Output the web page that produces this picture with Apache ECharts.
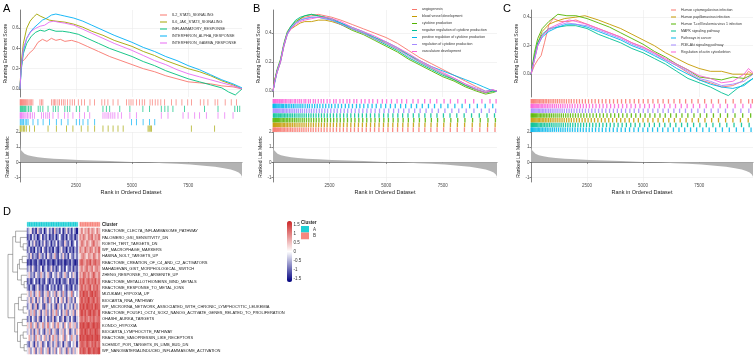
<!DOCTYPE html>
<html>
<head>
<meta charset="utf-8">
<script src="https://cdn.jsdelivr.net/npm/echarts@6/dist/echarts.min.js"></script>
<style>
  html, body { margin: 0; padding: 0; background: #fff; }
  #chart { width: 755px; height: 359px; }
</style>
</head>
<body>
<div id="chart"></div>
<script>
// ---------- data ----------
const N_GENES = 9900;

// ranked list metric (rank, value)
const rankedMetric = [[0,1.2],[20,0.95],[50,0.8],[100,0.68],[200,0.56],[350,0.47],[550,0.4],[800,0.34],[1100,0.29],[1500,0.24],[2000,0.2],[2600,0.16],[3300,0.12],[4000,0.08],[4700,0.04],[5300,0.01],[5800,-0.02],[6400,-0.06],[7000,-0.1],[7600,-0.15],[8200,-0.22],[8700,-0.3],[9100,-0.39],[9400,-0.48],[9600,-0.57],[9750,-0.68],[9850,-0.8],[9900,-0.95]];

// panel A (hallmark)
const setsA = ['IL2_STAT5_SIGNALING', 'IL6_JAK_STAT3_SIGNALING', 'INFLAMMATORY_RESPONSE', 'INTERFERON_ALPHA_RESPONSE', 'INTERFERON_GAMMA_RESPONSE'];
const colorsA = ['#F8766D', '#A3A500', '#00BF7D', '#00B0F6', '#E76BF3'];
const esA_IL2 = [[0,0],[40,0.2],[80,0.27],[200,0.29],[400,0.35],[600,0.39],[800,0.46],[1000,0.49],[1200,0.47],[1400,0.5],[1600,0.48],[1800,0.49],[2000,0.47],[2300,0.48],[2600,0.46],[3000,0.42],[3500,0.37],[4000,0.32],[4500,0.28],[5000,0.24],[5500,0.2],[6000,0.17],[6500,0.13],[7000,0.1],[7500,0.07],[8000,0.06],[8500,0.05],[9000,0.03],[9500,0.02],[9900,0]];
const esA_IL6 = [[0,0],[50,0.25],[150,0.45],[300,0.6],[450,0.67],[600,0.71],[750,0.74],[900,0.72],[1100,0.7],[1300,0.68],[1600,0.67],[2000,0.66],[2400,0.64],[2800,0.61],[3200,0.57],[3700,0.53],[4200,0.48],[5000,0.42],[5500,0.37],[6000,0.33],[6500,0.28],[7000,0.24],[7500,0.2],[8000,0.17],[8500,0.13],[9000,0.08],[9500,0.04],[9900,0]];
const esA_INFL = [[0,0],[50,0.18],[150,0.35],[300,0.45],[500,0.52],[700,0.56],[900,0.58],[1100,0.57],[1300,0.59],[1600,0.57],[1900,0.57],[2200,0.56],[2600,0.54],[3000,0.5],[3500,0.45],[4000,0.4],[4500,0.36],[5000,0.32],[5500,0.27],[6000,0.23],[6500,0.18],[7000,0.14],[7500,0.1],[8000,0.07],[8500,0.04],[9000,0.01],[9300,-0.03],[9600,-0.06],[9800,-0.02],[9900,0]];
const esA_ALPHA = [[0,0],[50,0.2],[150,0.38],[300,0.5],[450,0.56],[600,0.6],[800,0.64],[1000,0.68],[1200,0.7],[1400,0.73],[1600,0.74],[1800,0.73],[2000,0.72],[2400,0.7],[2800,0.67],[3200,0.63],[3700,0.58],[4200,0.53],[5000,0.46],[5500,0.41],[6000,0.37],[6500,0.32],[7000,0.28],[7500,0.23],[8000,0.19],[8500,0.14],[9000,0.09],[9500,0.05],[9900,0.01]];
const esA_GAMMA = [[0,0],[50,0.2],[150,0.4],[300,0.5],[500,0.57],[700,0.6],[900,0.62],[1100,0.63],[1300,0.66],[1500,0.67],[1700,0.66],[2000,0.65],[2400,0.63],[2800,0.59],[3200,0.55],[3700,0.5],[4200,0.45],[5000,0.38],[5500,0.33],[6000,0.28],[6500,0.24],[7000,0.19],[7500,0.15],[8000,0.12],[8500,0.09],[9000,0.06],[9500,0.03],[9900,0]];
// rug rows of panel A, top to bottom
const rugColorsA = ['#F8766D', '#00BF7D', '#E76BF3', '#00B0F6', '#A3A500'];
const rugA1 = [5,25,45,70,95,120,150,180,210,245,280,320,360,410,460,520,575,890,960,1020,1410,1480,1540,1600,1690,1760,1850,1930,2010,2120,2230,2330,2430,2600,2750,2880,3120,3320,3650,3780,3920,4150,4370,4750,4860,4950,5040,5200,5330,5450,5560,5800,5900,6030,6150,6280,6450,6760,6960,7220,7480,7650,8040,8200,8380,8700,8820,9150,9420,9650];
const rugA2 = [10,40,75,110,150,200,250,310,380,450,500,810,900,1020,1250,1480,1590,1700,2000,2110,2220,2510,2660,3030,3700,3850,4000,4450,4900,5480,5780,6300,6460,6600,6820,7340,8230,8830,9580,9700,9800];
const rugA3 = [5,30,60,90,130,170,220,270,330,400,470,550,640,960,1050,1150,1240,1320,1470,1700,1990,2140,2360,2660,2880,3110,3700,3790,3880,3960,4050,4140,4230,4370,4520,4900,5190,6300,6600,7270,7500,7790,8010,8310,8830,9130,9500];
const rugA4 = [10,50,100,160,230,300,360,580,800,1030,1320,1620,1840,2140,2510,2660,2810,3030,3330,4970,5190,5490,5780,6010];
const rugA5 = [5,40,90,150,210,280,430,650,1250,1620,2070,2360,2730,3030,3330,3700,3930,4150,4370,4600,5710,5760,5810,5860,7640,8680];

// panel B (GO)
const setsB = ['angiogenesis', 'blood vessel development', 'cytokine production', 'negative regulation of cytokine production', 'positive regulation of cytokine production', 'regulation of cytokine production', 'vasculature development'];
const colorsB = ['#F8766D', '#C49A00', '#53B400', '#00C094', '#00B6EB', '#A58AFF', '#FB61D7'];
const esB_angio = [[0,0],[80,0.07],[180,0.13],[330,0.2],[480,0.31],[630,0.4],[800,0.44],[1000,0.47],[1200,0.5],[1400,0.51],[1700,0.52],[2000,0.53],[2300,0.52],[2600,0.51],[3000,0.49],[3500,0.46],[4000,0.43],[4500,0.4],[5000,0.37],[5500,0.33],[6000,0.28],[6500,0.23],[7000,0.19],[7500,0.15],[8000,0.11],[8500,0.07],[9000,0.03],[9400,0],[9700,0.01],[9900,0]];
const esB_blood = [[0,0],[80,0.08],[180,0.14],[330,0.21],[480,0.32],[630,0.4],[800,0.43],[1000,0.45],[1200,0.47],[1400,0.48],[1700,0.48],[2000,0.49],[2300,0.49],[2600,0.48],[3000,0.46],[3500,0.43],[4000,0.4],[4500,0.37],[5000,0.33],[5500,0.29],[6000,0.25],[6500,0.2],[7000,0.16],[7500,0.12],[8000,0.08],[8500,0.04],[9000,0.01],[9400,-0.01],[9700,0],[9900,0]];
const esB_cyto = [[0,0],[80,0.08],[180,0.15],[330,0.22],[480,0.33],[630,0.41],[800,0.45],[1000,0.48],[1200,0.5],[1400,0.52],[1700,0.53],[2000,0.52],[2300,0.51],[2600,0.49],[3000,0.46],[3500,0.42],[4000,0.39],[4500,0.35],[5000,0.31],[5500,0.27],[6000,0.22],[6500,0.18],[7000,0.14],[7500,0.1],[8000,0.07],[8500,0.03],[9000,0],[9400,-0.02],[9700,-0.01],[9900,0]];
const esB_neg = [[0,0],[80,0.07],[180,0.14],[330,0.21],[480,0.32],[630,0.4],[800,0.45],[1000,0.49],[1200,0.51],[1400,0.52],[1700,0.53],[2000,0.52],[2300,0.51],[2600,0.5],[3000,0.47],[3500,0.43],[4000,0.4],[4500,0.36],[5000,0.32],[5500,0.28],[6000,0.23],[6500,0.19],[7000,0.15],[7500,0.11],[8000,0.08],[8500,0.04],[9000,0.01],[9400,-0.01],[9700,0],[9900,0]];
const esB_pos = [[0,0],[80,0.06],[180,0.13],[330,0.2],[480,0.31],[630,0.39],[800,0.44],[1000,0.47],[1200,0.49],[1400,0.5],[1700,0.51],[2000,0.51],[2300,0.5],[2600,0.49],[3000,0.47],[3500,0.44],[4000,0.41],[4500,0.37],[5000,0.34],[5500,0.3],[6000,0.25],[6500,0.21],[7000,0.17],[7500,0.14],[8000,0.11],[8500,0.08],[9000,0.05],[9300,0.03],[9600,0.01],[9900,0]];
const esB_reg = [[0,0],[80,0.07],[180,0.14],[330,0.21],[480,0.32],[630,0.4],[800,0.44],[1000,0.47],[1200,0.49],[1400,0.5],[1700,0.51],[2000,0.51],[2300,0.5],[2600,0.49],[3000,0.46],[3500,0.43],[4000,0.4],[4500,0.36],[5000,0.33],[5500,0.29],[6000,0.24],[6500,0.2],[7000,0.16],[7500,0.12],[8000,0.09],[8500,0.05],[9000,0.02],[9400,0],[9700,0.01],[9900,0]];
const esB_vasc = [[0,0],[80,0.07],[180,0.13],[330,0.2],[480,0.31],[630,0.39],[800,0.43],[1000,0.46],[1200,0.48],[1400,0.49],[1700,0.5],[2000,0.51],[2300,0.51],[2600,0.5],[3000,0.48],[3500,0.44],[4000,0.41],[4500,0.38],[5000,0.34],[5500,0.3],[6000,0.26],[6500,0.21],[7000,0.17],[7500,0.13],[8000,0.09],[8500,0.05],[9000,0.01],[9400,-0.01],[9700,0.01],[9900,0]];
const rugColorsB = ['#FB61D7', '#00B6EB', '#A58AFF', '#00C094', '#53B400', '#C49A00', '#F8766D'];
const rugB1 = [8,31,66,102,140,187,226,281,318,377,430,488,560,619,703,770,841,935,1002,1096,1180,1262,1371,1449,1563,1650,1781,1874,2002,2130,2241,2392,2515,2680,2790,2958,3102,3270,3391,3577,3701,3905,4066,4248,4410,4619,4833,5020,5236,5482,5690,5905,6187,6412,6703,6950,7238,7560,7841,8166,8502,8870,9233,9590,9860];
const rugB2 = [4,27,58,95,128,171,219,262,309,366,421,470,541,598,672,745,822,901,976,1063,1150,1231,1318,1420,1522,1611,1730,1840,1956,2071,2203,2330,2470,2590,2742,2881,3030,3197,3349,3512,3688,3840,4012,4195,4380,4563,4770,4980,5190,5404,5640,5862,6111,6345,6598,6870,7139,7419,7730,8037,8358,8690,9030,9378,9712];
const rugB3 = [13,44,83,121,163,208,255,301,354,412,466,527,590,657,731,799,877,955,1038,1121,1212,1299,1395,1488,1597,1699,1807,1921,2045,2161,2290,2413,2555,2700,2839,2992,3148,3301,3466,3633,3800,3971,4150,4332,4515,4708,4911,5114,5330,5548,5777,6010,6262,6503,6766,7030,7310,7598,7905,8210,8540,8880,9211,9555,9840];
const rugB4 = [19,52,90,133,178,231,277,336,392,448,513,574,640,714,786,859,944,1020,1109,1193,1284,1377,1474,1576,1680,1789,1902,2019,2141,2265,2398,2531,2672,2818,2966,3122,3279,3440,3609,3781,3950,4131,4308,4497,4688,4890,5088,5299,5517,5730,5966,6201,6450,6711,6977,7247,7532,7823,8124,8448,8775,9117,9460,9790];
const rugB5 = [6,39,77,117,159,204,248,297,349,405,462,522,587,650,722,792,866,948,1026,1110,1196,1291,1381,1480,1583,1688,1796,1911,2030,2150,2279,2404,2544,2681,2827,2975,3131,3292,3455,3621,3792,3966,4144,4325,4509,4702,4898,5101,5312,5526,5752,5983,6221,6471,6730,6999,7273,7561,7859,8163,8482,8820,9160,9501,9830];
const rugB6 = [11,36,71,110,150,197,242,292,343,399,456,515,581,645,716,785,860,940,1017,1103,1188,1280,1372,1470,1572,1678,1786,1899,2017,2139,2268,2393,2531,2669,2813,2962,3117,3277,3440,3606,3777,3951,4129,4311,4495,4688,4884,5087,5296,5511,5737,5968,6206,6456,6715,6983,7258,7546,7843,8149,8468,8806,9146,9487,9818];
const rugB7 = [2,33,68,106,147,193,238,287,338,395,451,510,575,639,709,779,853,933,1010,1096,1181,1273,1365,1463,1565,1671,1779,1892,2010,2132,2260,2386,2523,2662,2806,2954,3110,3270,3433,3599,3770,3944,4122,4304,4488,4681,4877,5080,5289,5504,5730,5961,6199,6449,6708,6976,7251,7539,7836,8142,8461,8799,9139,9480,9811];

// panel C (KEGG)
const setsC = ['Human cytomegalovirus infection', 'Human papillomavirus infection', 'Human T-cell leukemia virus 1 infection', 'MAPK signaling pathway', 'Pathways in cancer', 'PI3K-Akt signaling pathway', 'Regulation of actin cytoskeleton'];
const colorsC = ['#F8766D', '#C49A00', '#53B400', '#00C094', '#00B6EB', '#A58AFF', '#FB61D7'];
const esC_HCMV = [[0,0],[150,0.06],[300,0.1],[450,0.13],[600,0.22],[800,0.35],[1000,0.39],[1300,0.37],[1700,0.37],[2000,0.38],[2500,0.35],[3000,0.32],[3500,0.29],[4000,0.26],[4500,0.22],[5000,0.19],[5500,0.15],[6000,0.1],[6500,0.06],[7000,0.01],[7500,-0.04],[8000,-0.06],[8500,-0.09],[9000,-0.08],[9400,-0.05],[9700,0.02],[9900,0]];
const esC_HPV = [[0,0],[150,0.12],[300,0.22],[500,0.3],[800,0.35],[1100,0.37],[1500,0.39],[2000,0.4],[2400,0.41],[3000,0.38],[3500,0.35],[4000,0.32],[4500,0.28],[5000,0.24],[5500,0.2],[6000,0.15],[6500,0.11],[7000,0.07],[7500,0.04],[8000,0.02],[8500,0.02],[9000,0],[9500,0],[9900,0]];
const esC_HTLV = [[0,0],[150,0.15],[300,0.25],[500,0.32],[800,0.37],[1200,0.42],[1600,0.41],[2000,0.41],[2500,0.39],[3000,0.36],[3500,0.33],[4000,0.29],[4500,0.25],[5000,0.21],[5500,0.16],[6000,0.12],[6500,0.07],[7000,0.03],[7500,-0.02],[8000,-0.03],[8500,-0.04],[9000,-0.02],[9500,-0.03],[9900,0]];
const esC_MAPK = [[0,0],[150,0.12],[300,0.22],[500,0.28],[800,0.32],[1200,0.33],[1600,0.34],[2000,0.34],[2500,0.32],[3000,0.28],[3500,0.25],[4000,0.22],[4500,0.18],[5000,0.15],[5500,0.11],[6000,0.07],[6500,0.02],[7000,-0.03],[7500,-0.06],[8000,-0.09],[8500,-0.13],[8800,-0.15],[9200,-0.1],[9600,-0.06],[9900,-0.03]];
const esC_PIC = [[0,0],[150,0.1],[300,0.2],[500,0.26],[800,0.3],[1200,0.33],[1600,0.35],[2000,0.35],[2500,0.33],[3000,0.3],[3500,0.27],[4000,0.24],[4500,0.2],[5000,0.17],[5500,0.13],[6000,0.09],[6500,0.04],[7000,0],[7500,-0.04],[8000,-0.07],[8500,-0.09],[9000,-0.1],[9500,-0.08],[9900,-0.03]];
const esC_PI3K = [[0,0],[150,0.1],[300,0.2],[500,0.27],[800,0.31],[1200,0.34],[1600,0.36],[2000,0.35],[2500,0.34],[3000,0.31],[3500,0.28],[4000,0.25],[4500,0.21],[5000,0.18],[5500,0.14],[6000,0.1],[6500,0.06],[7000,0.02],[7500,-0.03],[8000,-0.05],[8500,-0.08],[9000,-0.07],[9500,-0.05],[9900,0]];
const esC_ACTIN = [[0,0],[150,0.1],[300,0.2],[500,0.27],[800,0.32],[1200,0.35],[1700,0.38],[2000,0.37],[2500,0.35],[3000,0.32],[3500,0.29],[4000,0.26],[4500,0.22],[5000,0.19],[5500,0.15],[6000,0.11],[6500,0.07],[7000,0.03],[7500,-0.01],[8000,-0.03],[8500,-0.06],[9000,-0.05],[9500,0],[9700,0.04],[9900,0.01]];
const rugColorsC = ['#F8766D', '#FB61D7', '#A58AFF', '#53B400', '#C49A00', '#00C094', '#00B6EB'];
const rugC1 = [9,41,79,118,166,214,266,318,376,439,497,561,633,701,779,852,937,1015,1104,1189,1283,1379,1477,1581,1690,1798,1917,2034,2160,2291,2425,2565,2710,2861,3015,3177,3338,3507,3680,3857,4038,4221,4410,4606,4803,5008,5218,5438,5660,5892,6130,6378,6633,6895,7170,7452,7744,8047,8361,8680,9017,9360,9705,9870];
const rugC2 = [3,29,63,101,143,188,236,289,341,400,458,522,589,659,734,806,886,966,1052,1137,1229,1322,1419,1520,1626,1731,1842,1959,2078,2203,2333,2466,2605,2751,2900,3056,3215,3380,3550,3724,3901,4084,4270,4461,4657,4859,5066,5279,5499,5723,5957,6196,6443,6701,6964,7239,7521,7814,8118,8433,8761,9101,9449,9800];
const rugC3 = [16,47,86,127,172,221,272,326,383,444,505,570,640,711,786,862,943,1025,1112,1199,1293,1388,1488,1590,1698,1806,1922,2042,2165,2294,2428,2567,2712,2860,3014,3172,3336,3503,3676,3852,4033,4219,4408,4603,4802,5007,5218,5435,5658,5888,6126,6372,6626,6889,7161,7442,7733,8035,8348,8674,9012,9359,9714];
const rugC4 = [7,37,74,113,157,205,255,307,364,423,484,547,615,684,758,832,911,993,1077,1165,1256,1350,1446,1547,1651,1758,1869,1984,2104,2227,2355,2487,2625,2768,2917,3070,3227,3390,3558,3731,3909,4092,4281,4474,4673,4878,5087,5303,5524,5752,5986,6228,6476,6732,6995,7267,7547,7836,8135,8444,8765,9097,9440,9795];
const rugC5 = [12,45,82,124,170,219,271,324,381,442,503,568,637,708,783,860,940,1022,1108,1197,1289,1384,1482,1585,1691,1800,1914,2032,2154,2280,2410,2546,2687,2833,2984,3141,3302,3468,3640,3818,4001,4189,4383,4582,4787,4998,5215,5438,5667,5903,6145,6395,6652,6916,7188,7468,7757,8055,8362,8678,9004,9340,9686];
const rugC6 = [5,33,69,108,151,198,249,302,358,416,476,540,607,677,749,825,904,985,1071,1158,1249,1343,1440,1540,1645,1752,1863,1977,2095,2218,2345,2476,2612,2753,2899,3050,3206,3367,3534,3706,3883,4065,4253,4447,4646,4851,5062,5279,5502,5731,5967,6210,6459,6715,6979,7251,7530,7817,8113,8418,8731,9054,9386,9728];
const rugC7 = [1,26,57,93,133,177,224,276,330,388,449,513,580,651,725,801,882,965,1051,1140,1232,1327,1425,1526,1630,1738,1849,1964,2082,2204,2330,2461,2596,2735,2879,3028,3181,3339,3502,3670,3844,4022,4206,4395,4589,4789,4994,5205,5422,5645,5874,6109,6351,6599,6854,7116,7385,7661,7945,8236,8536,8843,9158,9481,9813];

// panel D (heatmap of GSVA scores)
const heatRows = ['REACTOME_CLEC7A_INFLAMMASOME_PATHWAY', 'PALOMERO_GSI_SENSITIVITY_DN', 'ROETH_TERT_TARGETS_DN', 'WP_MACROPHAGE_MARKERS', 'HASINA_NOL7_TARGETS_UP', 'REACTOME_CREATION_OF_C4_AND_C2_ACTIVATORS', 'MAHADEVAN_GIST_MORPHOLOGICAL_SWITCH', 'ZHENG_RESPONSE_TO_ARSENITE_UP', 'REACTOME_METALLOTHIONEINS_BIND_METALS', 'REACTOME_RESPONSE_TO_METAL_IONS', 'MIZUKAMI_HYPOXIA_UP', 'BIOCARTA_RNA_PATHWAY', 'WP_MICRORNA_NETWORK_ASSOCIATED_WITH_CHRONIC_LYMPHOCYTIC_LEUKEMIA', 'REACTOME_POU5F1_OCT4_SOX2_NANOG_ACTIVATE_GENES_RELATED_TO_PROLIFERATION', 'OHASHI_AURKA_TARGETS', 'KONDO_HYPOXIA', 'BIOCARTA_LYMPHOCYTE_PATHWAY', 'REACTOME_VASOPRESSIN_LIKE_RECEPTORS', 'SCHMIDT_POR_TARGETS_IN_LIMB_BUD_DN', 'WP_NANOMATERIALINDUCED_INFLAMMASOME_ACTIVATION'];
const nClusterA = 30; // first 30 samples are cluster A, the rest cluster B
const heatValues = [
  [-0.9,-0.3,0.2,-1.2,-0.6,-1.4,0.4,-0.8,-1.1,-0.2,-1.5,-0.7,0.1,-1.0,-0.4,-1.3,0.5,-0.9,-0.6,-1.2,-0.1,-1.4,-0.8,0.3,-1.1,-0.5,-1.3,-0.2,-0.9,-1.5, 0.5,1.0,0.3,0.8,0.6,1.1,0.4,0.9,0.7,0.2,1.0,0.6],
  [-1.2,-0.7,-1.4,-0.2,-1.0,-0.5,-1.5,-0.9,0.1,-1.3,-0.6,-1.1,-0.3,-1.4,-0.8,-1.2,-0.4,-1.5,-0.7,0.0,-1.0,-1.3,-0.6,-1.4,-0.2,-0.9,-1.2,-0.5,-1.4,-0.8, 0.9,0.6,1.1,0.7,0.4,1.0,0.8,1.2,0.5,0.9,0.7,1.1],
  [-0.6,-1.3,-0.2,-0.9,0.3,-1.1,-0.7,-1.4,-0.4,-1.0,0.2,-1.2,-0.8,-0.3,-1.4,-0.6,-1.0,0.1,-1.3,-0.5,-0.9,-1.2,0.4,-0.7,-1.1,-0.3,-1.4,-0.8,0.0,-1.0, 0.6,1.1,0.8,0.4,1.0,0.7,0.3,0.9,1.2,0.6,0.8,0.5],
  [-1.0,-0.4,-1.3,-0.8,-1.5,-0.2,-1.1,-0.6,-1.4,0.1,-0.9,-1.3,-0.5,-1.2,-0.7,-1.5,-0.3,-1.0,-1.4,-0.6,0.2,-1.1,-0.8,-1.5,-0.4,-1.2,-0.7,-1.4,-0.5,-1.0, 1.0,0.7,0.5,1.2,0.8,0.6,1.1,0.9,0.4,1.0,0.7,1.2],
  [-0.4,-0.9,0.3,-1.1,-0.5,-0.8,-1.2,0.5,-0.6,-1.0,-0.3,-1.3,0.2,-0.7,-1.1,-0.4,0.6,-0.9,-1.2,-0.2,-0.8,0.4,-1.0,-0.5,-1.3,0.1,-0.7,-1.1,-0.3,-0.9, 0.4,0.8,1.0,0.6,0.3,0.9,0.7,0.5,1.1,0.8,0.4,0.9],
  [-1.3,-1.0,-1.5,-0.7,-1.2,-1.4,-0.5,-1.1,-1.5,-0.9,-1.3,-0.4,-1.4,-1.1,-0.8,-1.5,-1.2,-0.6,-1.4,-1.0,-1.3,-0.7,-1.5,-1.2,-0.9,-1.4,-0.5,-1.1,-1.5,-1.2, 1.1,1.3,0.9,0.7,1.2,1.0,1.4,0.8,1.1,1.3,0.9,1.0],
  [-0.8,-0.3,-1.1,0.2,-0.9,-1.3,-0.6,-1.0,0.1,-1.4,-0.7,-0.2,-1.2,-0.9,0.3,-1.1,-0.5,-1.3,-0.8,-0.1,-1.2,-0.6,-1.4,0.0,-0.9,-1.1,-0.4,-1.3,-0.7,-1.0, 0.7,1.0,0.5,0.9,1.2,0.6,0.8,1.1,0.4,0.9,1.0,0.7],
  [-0.3,0.4,-0.8,-0.5,-1.1,0.2,-0.6,-0.9,0.6,-0.4,-1.0,-0.2,0.5,-0.8,-1.2,0.1,-0.5,-0.9,0.3,-0.7,-1.1,-0.3,0.6,-0.6,-1.0,0.0,-0.8,0.4,-0.5,-1.2, 0.9,0.6,1.2,1.0,0.7,1.1,0.5,0.9,1.3,0.8,0.6,1.0],
  [-1.1,-0.6,-1.4,-0.9,0.0,-1.2,-0.7,-1.5,-0.5,-1.0,-1.3,0.1,-0.8,-1.4,-0.6,-1.1,-0.2,-1.3,-0.9,-1.5,-0.4,-1.0,-1.2,-0.7,0.2,-1.4,-0.9,-1.1,-0.6,-1.3, 1.2,1.0,1.4,0.8,1.1,1.3,0.9,1.2,1.0,1.4,0.8,1.1],
  [-0.7,-1.2,-0.3,-1.0,-1.4,-0.6,0.2,-1.1,-0.8,-1.3,-0.4,-0.9,-1.4,0.0,-1.0,-0.6,-1.2,-0.3,-1.4,-0.8,-1.1,0.1,-0.7,-1.3,-0.5,-1.0,-1.4,-0.2,-1.1,-0.8, 1.0,1.3,0.8,1.2,0.9,1.1,1.4,0.7,1.2,1.0,1.3,0.9],
  [0.2,-0.6,0.7,-0.3,-1.0,0.5,-0.2,0.9,-0.7,-1.1,0.3,-0.4,0.8,-0.8,0.1,-0.5,0.6,-1.0,0.4,-0.2,-0.9,0.7,-0.6,-1.1,0.2,-0.3,0.9,-0.8,0.0,-0.5, 1.3,1.1,1.5,1.2,1.4,0.9,1.3,1.5,1.1,1.4,1.2,1.0],
  [-0.5,0.3,-0.9,0.6,-0.2,-1.2,0.4,-0.7,0.1,-1.0,0.5,-0.4,-1.1,0.7,-0.6,0.0,-0.9,0.4,-1.3,-0.1,0.6,-0.8,0.2,-1.2,0.5,-0.5,-0.9,0.3,-1.1,0.1, 1.1,1.4,1.0,1.3,1.2,1.5,1.0,1.2,1.4,0.9,1.3,1.1],
  [-0.8,-0.2,0.4,-1.1,-0.5,0.6,-1.3,-0.3,0.2,-0.9,-1.2,0.5,-0.6,-0.1,-1.0,0.3,-0.7,-1.3,0.6,-0.4,-0.9,0.1,-1.2,-0.5,0.4,-0.8,-0.2,-1.1,0.5,-0.6, 1.4,1.2,1.5,1.1,1.5,1.3,1.2,1.4,1.0,1.5,1.3,1.2],
  [0.1,-0.7,0.6,-0.4,0.8,-0.9,-0.2,0.5,-1.1,0.3,-0.5,0.7,-0.8,0.2,-1.0,0.6,-0.3,0.9,-0.7,0.0,-1.1,0.4,-0.5,0.8,-0.9,0.2,-0.4,0.6,-1.0,0.3, 1.2,1.5,1.1,1.4,1.0,1.3,1.5,1.1,1.4,1.2,1.0,1.4],
  [-0.9,-0.4,-1.3,0.1,-0.7,-1.1,0.3,-0.9,-1.4,-0.2,-0.8,0.2,-1.2,-0.5,-1.0,0.4,-1.3,-0.6,-0.1,-1.1,-0.8,0.3,-1.4,-0.6,-0.3,-1.2,0.1,-0.9,-1.3,-0.4, 1.0,1.2,0.9,1.3,1.1,0.8,1.2,1.0,1.3,0.9,1.1,1.2],
  [0.4,-0.3,0.9,-0.6,0.2,0.7,-0.9,0.5,-0.2,0.8,-0.7,0.3,1.0,-0.5,0.1,0.6,-0.8,0.4,0.9,-0.3,0.2,-0.9,0.7,0.0,-0.6,0.8,0.3,-0.4,0.6,-0.7, 1.4,1.3,1.5,1.2,1.4,1.5,1.1,1.3,1.5,1.2,1.4,1.3],
  [-0.4,0.2,-0.8,0.5,-1.1,-0.3,0.6,-0.9,0.1,-0.6,-1.2,0.4,-0.5,0.7,-1.0,-0.2,0.5,-0.8,-1.1,0.3,-0.4,0.6,-0.9,-0.1,0.4,-1.2,-0.6,0.2,-0.8,0.5, 1.2,1.4,1.1,1.5,1.3,1.0,1.4,1.2,1.1,1.5,1.3,1.1],
  [0.0,0.6,-0.5,0.3,-0.9,0.8,-0.2,0.5,-0.7,0.1,0.7,-0.6,0.4,-1.0,0.2,0.9,-0.4,0.6,-0.8,0.3,-0.1,0.7,-0.9,0.5,0.0,-0.6,0.8,-0.3,0.4,-0.8, 1.5,1.3,1.4,1.2,1.5,1.4,1.3,1.5,1.2,1.4,1.5,1.3],
  [-0.6,-1.0,0.2,-0.4,-1.3,0.4,-0.8,-0.2,0.5,-1.1,-0.5,0.1,-1.2,-0.7,0.3,-0.9,-0.3,0.6,-1.0,-0.6,0.2,-1.3,-0.4,0.4,-0.8,-1.1,0.0,-0.5,0.3,-1.2, 1.1,1.3,1.2,1.0,1.4,1.2,0.9,1.3,1.1,1.4,1.0,1.2],
  [-0.2,0.5,-0.7,-0.1,0.6,-1.0,0.3,-0.5,0.8,-0.8,0.1,-0.4,0.7,-1.1,0.2,-0.6,0.5,-0.9,0.0,0.6,-0.7,-0.2,0.4,-1.0,0.7,-0.3,-0.8,0.5,-0.5,0.2, 1.3,1.1,1.4,1.2,1.0,1.5,1.3,1.1,1.4,1.2,1.3,1.5]
];
// row dendrogram, hclust style: negative = leaf (row number), positive = earlier merge
const treeMerge = [[-3,-4],[-2,1],[-1,2],[-5,-6],[4,-7],[-9,-10],[-8,6],[5,7],[3,8],[-11,-12],[-13,-14],[10,11],[-15,-16],[-17,-18],[-19,-20],[14,15],[13,16],[12,17],[9,18]];
const treeHeight = [0.2,0.35,0.6,0.25,0.4,0.15,0.3,0.5,0.75,0.3,0.2,0.45,0.25,0.2,0.15,0.35,0.5,0.65,1.0];
const legendTicks = [-1.5, -1, -0.5, 0, 0.5, 1, 1.5];

// ---------- chart building ----------
const FONT = '"Liberation Sans", Arial, sans-serif';
const GRID_COL = '#ebebeb';
const grids = [], xAxes = [], yAxes = [], series = [], legends = [];

function addGrid(g, xa, ya) {
  const i = grids.length;
  grids.push(g);
  xAxes.push(Object.assign({ gridIndex: i }, xa));
  yAxes.push(Object.assign({ gridIndex: i }, ya));
  return i;
}

function gseaPanel(p) {
  const axisCol = { color: '#333', width: 0.6 };
  // running enrichment score
  const gTop = addGrid({ left: p.left, top: 10, width: p.width, height: 87 }, {
    type: 'value', min: 0, max: N_GENES, interval: 2500,
    axisLine: { show: false }, axisTick: { show: false }, axisLabel: { show: false },
    splitLine: { show: true, showMaxLine: false, lineStyle: { color: GRID_COL, width: 0.6 } }
  }, {
    type: 'value', min: p.esMin, max: p.esMax,
    axisLine: { show: true, lineStyle: axisCol },
    axisTick: { show: true, length: 1.5, customValues: p.esTicks, lineStyle: axisCol },
    axisLabel: { customValues: p.esTicks, fontSize: 4.5, margin: 1.5, color: '#4d4d4d', fontFamily: FONT, formatter: v => v.toFixed(1) },
    splitLine: { show: true, lineStyle: { color: GRID_COL, width: 0.6 } },
    name: 'Running Enrichment Score', nameLocation: 'middle', nameGap: 8,
    nameTextStyle: { fontSize: 5, color: '#1a1a1a', fontFamily: FONT }
  });
  p.sets.forEach((s, i) => series.push({
    type: 'line', name: s, xAxisIndex: gTop, yAxisIndex: gTop, data: p.curves[i],
    symbol: 'none', silent: true, z: 3,
    lineStyle: { width: 0.9, color: p.colors[i] }, itemStyle: { color: p.colors[i] }
  }));
  legends.push({
    data: p.sets, orient: 'vertical', left: p.legendLeft, top: p.legendTop,
    icon: 'rect', itemWidth: p.legendIconW, itemHeight: 1, itemGap: 0, padding: 0,
    selectedMode: false,
    textStyle: { fontSize: p.legendFont, lineHeight: 7, color: '#333', fontFamily: FONT }
  });

  // rug of hits
  const nRows = p.rugs.length;
  const band = 33 / nRows;
  const gRug = addGrid({ left: p.left, top: 99, width: p.width, height: 33 },
    { type: 'value', min: 0, max: N_GENES, show: false },
    { type: 'category', data: p.rugs.map((_, i) => 'r' + i), inverse: true, show: false });
  p.rugs.forEach((hits, i) => series.push({
    type: 'scatter', name: p.tag + '_hits' + i, xAxisIndex: gRug, yAxisIndex: gRug,
    data: hits.map(r => [r, i]), symbol: 'rect', symbolSize: [p.tickW, band * 0.95], silent: true,
    itemStyle: { color: p.rugColors[i], opacity: 0.85 }
  }));

  // ranked list metric
  const gRank = addGrid({ left: p.left, top: 132, width: p.width, height: 50 }, {
    type: 'value', min: 0, max: N_GENES, interval: 2500,
    axisLine: { show: true, lineStyle: axisCol },
    axisTick: { show: true, length: 1.5, customValues: [2500, 5000, 7500], lineStyle: axisCol },
    axisLabel: { customValues: [2500, 5000, 7500], fontSize: 4.5, margin: 1.5, color: '#4d4d4d', fontFamily: FONT, formatter: v => String(v) },
    splitLine: { show: true, showMaxLine: false, lineStyle: { color: GRID_COL, width: 0.6 } },
    name: 'Rank in Ordered Dataset', nameLocation: 'middle', nameGap: 6,
    nameTextStyle: { fontSize: 5.5, color: '#1a1a1a', fontFamily: FONT }
  }, {
    type: 'value', min: -1.3, max: 2,
    axisLine: { show: true, lineStyle: axisCol },
    axisTick: { show: true, length: 1.5, customValues: [-1, 0, 1, 2], lineStyle: axisCol },
    axisLabel: { customValues: [-1, 0, 1, 2], fontSize: 4.5, margin: 1.5, color: '#4d4d4d', fontFamily: FONT },
    splitLine: { show: true, lineStyle: { color: GRID_COL, width: 0.6 } },
    name: 'Ranked List Metric', nameLocation: 'middle', nameGap: 7,
    nameTextStyle: { fontSize: 5, color: '#1a1a1a', fontFamily: FONT }
  });
  series.push({
    type: 'line', name: p.tag + '_metric', xAxisIndex: gRank, yAxisIndex: gRank, data: rankedMetric,
    symbol: 'none', silent: true, lineStyle: { width: 0 },
    areaStyle: { color: '#b3b3b3', opacity: 1 }
  });
}

gseaPanel({
  tag: 'A', left: 20, width: 222, esMin: -0.08, esMax: 0.78, esTicks: [0, 0.2, 0.4, 0.6],
  sets: setsA, colors: colorsA, curves: [esA_IL2, esA_IL6, esA_INFL, esA_ALPHA, esA_GAMMA],
  rugs: [rugA1, rugA2, rugA3, rugA4, rugA5], rugColors: rugColorsA, tickW: 0.8,
  legendLeft: 160, legendTop: 11.5, legendIconW: 7, legendFont: 3.8
});
gseaPanel({
  tag: 'B', left: 273, width: 224, esMin: -0.04, esMax: 0.56, esTicks: [0, 0.2, 0.4],
  sets: setsB, colors: colorsB, curves: [esB_angio, esB_blood, esB_cyto, esB_neg, esB_pos, esB_reg, esB_vasc],
  rugs: [rugB1, rugB2, rugB3, rugB4, rugB5, rugB6, rugB7], rugColors: rugColorsB, tickW: 1.3,
  legendLeft: 412, legendTop: 6, legendIconW: 5, legendFont: 3.5
});
gseaPanel({
  tag: 'C', left: 531, width: 222, esMin: -0.16, esMax: 0.45, esTicks: [0, 0.2, 0.4],
  sets: setsC, colors: colorsC, curves: [esC_HCMV, esC_HPV, esC_HTLV, esC_MAPK, esC_PIC, esC_PI3K, esC_ACTIN],
  rugs: [rugC1, rugC2, rugC3, rugC4, rugC5, rugC6, rugC7], rugColors: rugColorsC, tickW: 1.3,
  legendLeft: 671, legendTop: 6.5, legendIconW: 5, legendFont: 3.5
});

// ----- panel D -----
const nCols = heatValues[0].length;
const sampleCols = [];
for (let c = 0; c < nCols; c++) {
  if (c === nClusterA) sampleCols.push('gap');
  sampleCols.push(c < nClusterA ? 'A' + (c + 1) : 'B' + (c - nClusterA + 1));
}
const colPos = c => (c < nClusterA ? c : c + 1);

// cluster annotation bar
const gAnno = addGrid({ left: 27, top: 222, width: 73, height: 4.6 },
  { type: 'category', data: sampleCols, show: false },
  { type: 'value', min: 0, max: 1, show: false });
['A', 'B'].forEach((cl, k) => {
  const col = k === 0 ? '#1FCFD6' : '#F8877F';
  series.push({
    type: 'bar', name: cl, xAxisIndex: gAnno, yAxisIndex: gAnno, silent: true,
    barWidth: '100%', barGap: '-100%',
    data: sampleCols.map(s => (s[0] === cl ? 1 : '-')),
    itemStyle: { color: col, borderColor: col, borderWidth: 0.3 }
  });
});

// heatmap
const gHeat = addGrid({ left: 27, top: 228, width: 73, height: 126 },
  { type: 'category', data: sampleCols, show: false },
  {
    type: 'category', data: heatRows, inverse: true, position: 'right',
    axisLine: { show: false }, axisTick: { show: false }, splitLine: { show: false },
    axisLabel: { interval: 0, fontSize: 4, margin: 2, color: '#1a1a1a', fontFamily: FONT }
  });
const heatData = [];
heatValues.forEach((row, r) => row.forEach((v, c) => heatData.push([colPos(c), r, v])));
const heatIndex = series.length;
series.push({
  type: 'heatmap', name: 'gsva', xAxisIndex: gHeat, yAxisIndex: gHeat, data: heatData,
  silent: true, progressive: 0, itemStyle: { borderWidth: 0 }
});

// dendrogram
function treeSegments(merge, height) {
  const nodes = [];
  const yOf = i => (i < 0 ? -i - 1 : nodes[i - 1].y);
  const hOf = i => (i < 0 ? 0 : nodes[i - 1].h);
  const segs = [];
  merge.forEach(([a, b], k) => {
    const h = height[k], ya = yOf(a), yb = yOf(b);
    segs.push({ coords: [[hOf(a), ya], [h, ya], [h, yb], [hOf(b), yb]] });
    nodes.push({ y: (ya + yb) / 2, h: h });
  });
  return segs;
}
const gTree = addGrid({ left: 8, top: 228, width: 19, height: 126 },
  { type: 'value', min: 0, max: 1, inverse: true, show: false },
  { type: 'value', min: -0.5, max: heatRows.length - 0.5, inverse: true, show: false });
series.push({
  type: 'lines', name: 'tree', coordinateSystem: 'cartesian2d', xAxisIndex: gTree, yAxisIndex: gTree,
  polyline: true, silent: true, data: treeSegments(treeMerge, treeHeight),
  lineStyle: { color: '#5a5a5a', width: 0.5, opacity: 1 }
});

// colour-bar labels
const gBar = addGrid({ left: 287, top: 221, width: 5, height: 61 },
  { type: 'value', min: 0, max: 1, show: false },
  {
    type: 'value', min: -1.7, max: 1.7, position: 'right',
    axisLine: { show: false }, axisTick: { show: false }, splitLine: { show: false },
    axisLabel: { customValues: legendTicks, fontSize: 4.5, margin: 1.5, color: '#333', fontFamily: FONT }
  });
series.push({ type: 'line', name: 'barAxis', xAxisIndex: gBar, yAxisIndex: gBar, data: [], silent: true });

legends.push({
  data: ['A', 'B'], orient: 'vertical', left: 301, top: 226, icon: 'rect',
  itemWidth: 6, itemHeight: 4.6, itemGap: 0, padding: 0, selectedMode: false,
  textStyle: { fontSize: 4.5, lineHeight: 4.6, color: '#333', fontFamily: FONT }
});

const letter = (t, l, tp) => ({ text: t, left: l, top: tp, padding: 0, textStyle: { fontSize: 11, fontWeight: 'normal', color: '#000', fontFamily: FONT } });
const small = (t, l, tp) => ({ text: t, left: l, top: tp, padding: 0, textStyle: { fontSize: 4.5, fontWeight: 'bold', color: '#1a1a1a', fontFamily: FONT } });

const chart = echarts.init(document.getElementById('chart'), null, { renderer: 'canvas' });
chart.setOption({
  animation: false,
  backgroundColor: '#ffffff',
  title: [letter('A', 3, 3), letter('B', 253, 3), letter('C', 503, 3), letter('D', 3, 206),
          small('Cluster', 102, 222), small('Cluster', 301, 220.5)],
  grid: grids,
  xAxis: xAxes,
  yAxis: yAxes,
  legend: legends,
  visualMap: [{
    type: 'continuous', seriesIndex: heatIndex, min: -1.7, max: 1.7,
    left: 287, top: 221, itemWidth: 5, itemHeight: 61, padding: 0,
    calculable: false, text: null, showLabel: false,
    inRange: { color: ['#000080', '#ffffff', '#CD2626'] }
  }],
  series: series
});
</script>
</body>
</html>
